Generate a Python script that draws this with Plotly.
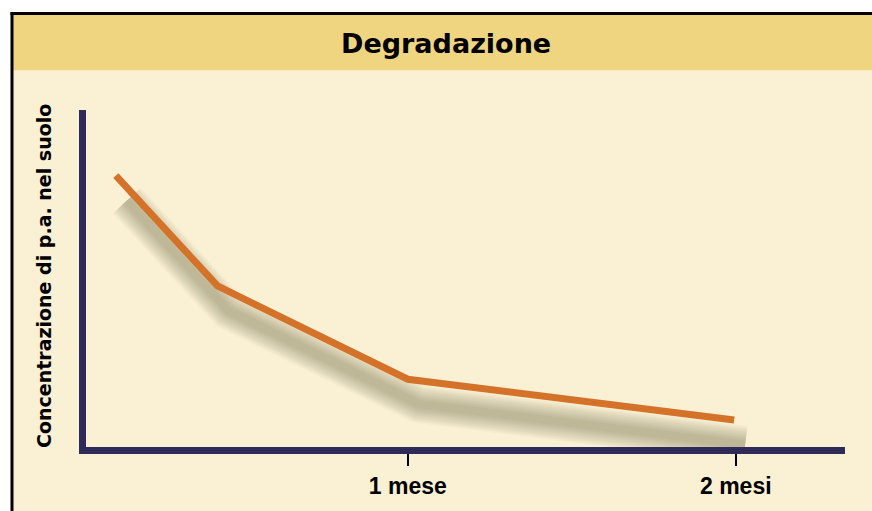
import plotly.graph_objects as go

# Data (time in months, concentration in arbitrary units)
months = [0.11, 0.42, 1.0, 1.995]
concentration = [80.5, 47.8, 20.1, 8.0]
tick_vals = [1, 2]
tick_text = ["1 mese", "2 mesi"]
title_text = "Degradazione"
y_title = "Concentrazione di p.a. nel suolo"

W, H = 872, 511
L, R, T, B = 86, 27, 110, 62
pw, ph = W - L - R, H - T - B
x_range = [0.019, 2.333]
y_range = [0, 100]

def px_x(p):
    return (p - L) / pw

def px_y(p):
    return (H - B - p) / ph

BODY = "#FAF0D3"
BAND = "#EFD580"
NAVY = "#2E2B58"
ORANGE = "#D4722A"

fig = go.Figure()

# soft shadow (same data, shifted by a fixed pixel offset through axis scale)
ux = pw / (x_range[1] - x_range[0])
uy = ph / (y_range[1] - y_range[0])
sx = [m + 11 / ux for m in months]
sy = [c - 25 / uy for c in concentration]
for w in range(38, 5, -3):
    fig.add_trace(go.Scatter(x=sx, y=sy, mode="lines",
                             line=dict(color="rgba(60,56,40,0.03)", width=w),
                             hoverinfo="skip", showlegend=False))

fig.add_trace(go.Scatter(x=months, y=concentration, mode="lines",
                         line=dict(color=ORANGE, width=7),
                         showlegend=False))

shapes = [
    dict(type="rect", xref="paper", yref="paper", layer="below",
         x0=px_x(12), x1=px_x(900), y0=px_y(540), y1=px_y(13),
         fillcolor=BODY, line=dict(width=0)),
    dict(type="rect", xref="paper", yref="paper", layer="below",
         x0=px_x(12), x1=px_x(900), y0=px_y(70), y1=px_y(13),
         fillcolor=BAND, line=dict(width=0)),
    dict(type="line", xref="paper", yref="paper", layer="above",
         x0=px_x(10.5), x1=px_x(900), y0=px_y(13), y1=px_y(13),
         line=dict(color="black", width=3)),
    dict(type="line", xref="paper", yref="paper", layer="above",
         x0=px_x(12), x1=px_x(12), y0=px_y(11.5), y1=px_y(540),
         line=dict(color="black", width=3)),
]

annotations = [
    dict(text=title_text, xref="paper", yref="paper",
         x=px_x(446), y=px_y(43), showarrow=False,
         xanchor="center", yanchor="middle",
         font=dict(family="DejaVu Sans", size=27, color="black", weight="bold")),
    dict(text=y_title, xref="paper", yref="paper",
         x=px_x(44), y=px_y(277), showarrow=False, textangle=-90,
         xanchor="center", yanchor="middle",
         font=dict(family="DejaVu Sans", size=19, color="black", weight="bold")),
]

fig.update_layout(
    width=W, height=H,
    margin=dict(l=L, r=R, t=T, b=B, pad=0),
    paper_bgcolor="white",
    plot_bgcolor="rgba(0,0,0,0)",
    shapes=shapes,
    annotations=annotations,
    xaxis=dict(range=x_range, showgrid=False, zeroline=False,
               showline=True, linecolor=NAVY, linewidth=7,
               tickmode="array", tickvals=tick_vals, ticktext=tick_text,
               ticks="outside", ticklen=12, tickwidth=2, tickcolor="black",
               tickfont=dict(family="Liberation Sans", size=23, color="black",
                             weight="bold"),
               fixedrange=True),
    yaxis=dict(range=y_range, showgrid=False, zeroline=False,
               showline=True, linecolor=NAVY, linewidth=7,
               showticklabels=False, ticks="", fixedrange=True),
)

fig.write_html("out.html", config={"displayModeBar": False},
               post_script="document.body.style.margin='0';document.body.style.overflow='hidden';")
